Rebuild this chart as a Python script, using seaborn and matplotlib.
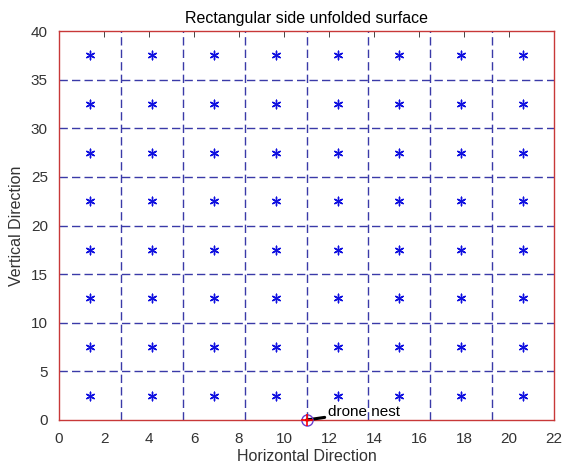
import matplotlib
matplotlib.use("Agg")
import matplotlib.pyplot as plt
import seaborn as sns
import pandas as pd

# Data
x_centers = [1.375, 4.125, 6.875, 9.625, 12.375, 15.125, 17.875, 20.625]
y_centers = [2.5, 7.5, 12.5, 17.5, 22.5, 27.5, 32.5, 37.5]
v_lines = [2.75, 5.5, 8.25, 11.0, 13.75, 16.5, 19.25]
h_lines = [5, 10, 15, 20, 25, 30, 35]
nest_x, nest_y = 11.0, 0.0
nest_label = "drone nest"
x_ticks = [0, 2, 4, 6, 8, 10, 12, 14, 16, 18, 20, 22]
y_ticks = [0, 5, 10, 15, 20, 25, 30, 35, 40]

sns.set_style("white")
plt.rcParams['font.family'] = ['Liberation Sans', 'DejaVu Sans']

df = pd.DataFrame([(x, y) for y in y_centers for x in x_centers], columns=["x", "y"])

fig = plt.figure(figsize=(5.62, 4.68), dpi=100)
ax = fig.add_axes([0.105, 0.1026, 0.881, 0.831])

grid_col = "#3a3aa8"
for v in v_lines:
    ax.axvline(v, color=grid_col, lw=1.0, ls=(0, (6, 3)), zorder=1)
for h in h_lines:
    ax.axhline(h, color=grid_col, lw=1.0, ls=(0, (6, 3)), zorder=1)

sns.scatterplot(data=df, x="x", y="y", ax=ax, marker=(6, 2, 0), s=38,
                color="#1010e0", linewidth=1.0, edgecolor="#1010e0", zorder=3, legend=False)

ax.plot([nest_x], [nest_y], marker="o", ms=8, mfc="none", mec="#6a3fd0", mew=1.0,
        clip_on=False, zorder=5)
ax.plot([nest_x], [nest_y], marker="+", ms=8, mec="#ff0000", mew=1.2,
        clip_on=False, zorder=6)
ax.annotate(nest_label, xy=(nest_x, nest_y), xytext=(11.95, 0.85),
            fontsize=11, va="center", ha="left", color="black",
            arrowprops=dict(arrowstyle="-", color="black", lw=2.2, shrinkA=0, shrinkB=0))

ax.set_xlim(0, 22)
ax.set_ylim(0, 40)
ax.set_xticks(x_ticks)
ax.set_yticks(y_ticks)
ax.tick_params(direction="in", top=True, right=True, length=4, width=0.6,
               labelsize=11, labelcolor="#333333", color="#262626")
ax.tick_params(axis="x", pad=9)
ax.tick_params(axis="y", pad=8)
for sp in ax.spines.values():
    sp.set_color("#c83838")
    sp.set_linewidth(1.0)
    sp.set_visible(True)

ax.set_xlabel("Horizontal Direction", fontsize=11.5, color="#333333", labelpad=2)
ax.set_ylabel("Vertical Direction", fontsize=11.5, color="#333333", labelpad=5)
ax.set_title("Rectangular side unfolded surface", fontsize=11.5, color="black", pad=6)

fig.savefig("out.png", dpi=100)
